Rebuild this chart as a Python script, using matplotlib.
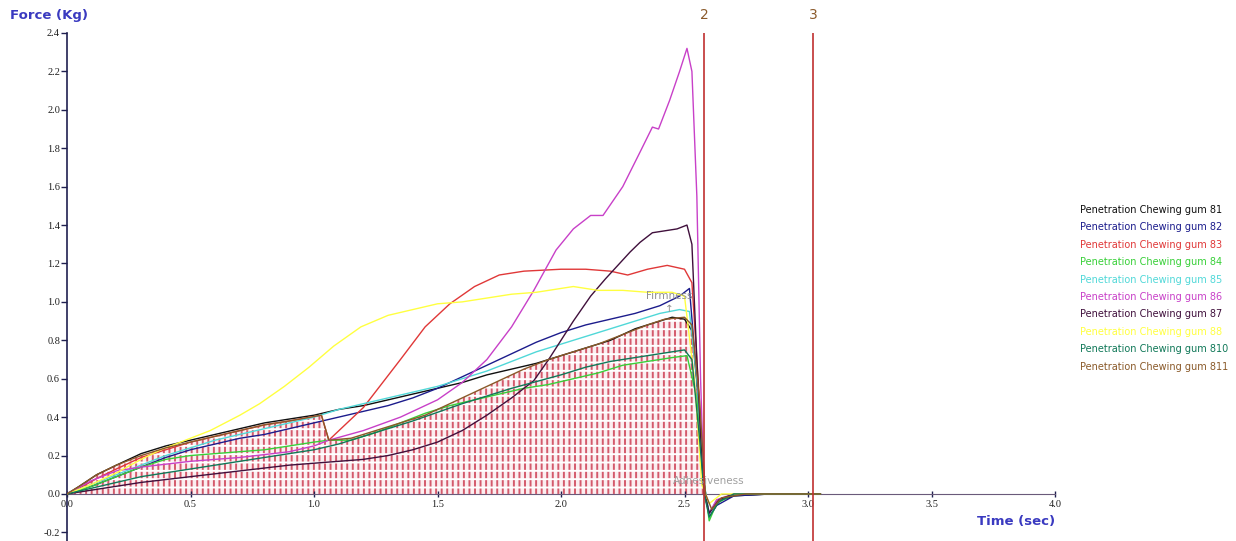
import numpy as np
import matplotlib.pyplot as plt

# force / time traces, read per sample (sec, kg)
t81 = [0, 0.05, 0.12, 0.2, 0.3, 0.4, 0.5, 0.6, 0.7, 0.8, 0.9, 1.0, 1.1, 1.2, 1.3, 1.4, 1.5, 1.6, 1.7, 1.8, 1.9, 2.0, 2.1, 2.2, 2.3, 2.4, 2.45, 2.5, 2.53, 2.56, 2.58, 2.6, 2.63, 2.7, 2.85, 3.05]
f81 = [0, 0.04, 0.1, 0.15, 0.21, 0.25, 0.28, 0.31, 0.34, 0.37, 0.39, 0.41, 0.44, 0.46, 0.49, 0.52, 0.55, 0.58, 0.62, 0.65, 0.68, 0.72, 0.76, 0.8, 0.86, 0.9, 0.92, 0.91, 0.85, 0.45, 0.0, -0.1, -0.04, -0.01, 0.0, 0.0]

t82 = [0, 0.1, 0.2, 0.3, 0.4, 0.5, 0.6, 0.7, 0.8, 0.9, 1.0, 1.1, 1.2, 1.3, 1.4, 1.5, 1.6, 1.7, 1.8, 1.9, 2.0, 2.1, 2.2, 2.3, 2.4, 2.48, 2.52, 2.55, 2.58, 2.6, 2.63, 2.7, 2.85, 3.05]
f82 = [0, 0.04, 0.09, 0.14, 0.19, 0.23, 0.26, 0.29, 0.31, 0.34, 0.37, 0.4, 0.43, 0.46, 0.5, 0.55, 0.61, 0.67, 0.73, 0.79, 0.84, 0.88, 0.91, 0.94, 0.98, 1.03, 1.07, 0.6, 0.05, -0.12, -0.06, -0.01, 0.0, 0.0]

t83 = [0, 0.05, 0.12, 0.2, 0.3, 0.4, 0.5, 0.6, 0.7, 0.8, 0.9, 1.03, 1.06, 1.2, 1.35, 1.45, 1.55, 1.65, 1.75, 1.85, 2.0, 2.1, 2.2, 2.27, 2.35, 2.43, 2.5, 2.53, 2.56, 2.58, 2.6, 2.63, 2.7, 2.85, 3.05]
f83 = [0, 0.03, 0.08, 0.13, 0.19, 0.23, 0.27, 0.3, 0.33, 0.36, 0.38, 0.41, 0.28, 0.45, 0.7, 0.87, 0.99, 1.08, 1.14, 1.16, 1.17, 1.17, 1.16, 1.14, 1.17, 1.19, 1.17, 1.1, 0.5, 0.0, -0.1, -0.04, 0.0, 0.0, 0.0]

t84 = [0, 0.1, 0.2, 0.3, 0.4, 0.5, 0.6, 0.7, 0.8, 0.9, 1.0, 1.06, 1.15, 1.25, 1.35, 1.45, 1.55, 1.65, 1.75, 1.85, 1.95, 2.05, 2.15, 2.25, 2.35, 2.45, 2.51, 2.55, 2.58, 2.6, 2.63, 2.7, 3.05]
f84 = [0, 0.04, 0.09, 0.14, 0.18, 0.2, 0.21, 0.22, 0.23, 0.25, 0.27, 0.28, 0.28, 0.32, 0.37, 0.42, 0.46, 0.49, 0.52, 0.55, 0.57, 0.6, 0.63, 0.67, 0.69, 0.71, 0.72, 0.5, 0.05, -0.14, -0.05, 0.0, 0.0]

t85 = [0, 0.1, 0.2, 0.3, 0.4, 0.5, 0.6, 0.7, 0.8, 0.9, 1.0, 1.1, 1.2, 1.3, 1.4, 1.5, 1.6, 1.7, 1.8, 1.9, 2.0, 2.1, 2.2, 2.3, 2.4, 2.48, 2.52, 2.55, 2.58, 2.6, 2.64, 2.7, 3.05]
f85 = [0, 0.05, 0.1, 0.15, 0.2, 0.24, 0.28, 0.31, 0.34, 0.37, 0.4, 0.44, 0.47, 0.5, 0.53, 0.56, 0.6, 0.64, 0.69, 0.74, 0.78, 0.82, 0.86, 0.9, 0.94, 0.96, 0.95, 0.6, 0.05, -0.1, -0.03, 0.0, 0.0]

t86 = [0, 0.1, 0.2, 0.3, 0.5, 0.7, 0.9, 1.0, 1.06, 1.2, 1.35, 1.5, 1.6, 1.7, 1.8, 1.89, 1.98, 2.05, 2.12, 2.17, 2.25, 2.32, 2.37, 2.395, 2.44, 2.48, 2.51, 2.53, 2.55, 2.565, 2.58, 2.6, 2.63, 2.7, 3.05]
f86 = [0, 0.07, 0.12, 0.14, 0.17, 0.19, 0.22, 0.25, 0.28, 0.33, 0.4, 0.49, 0.58, 0.7, 0.87, 1.06, 1.27, 1.38, 1.45, 1.45, 1.6, 1.78, 1.91, 1.9, 2.05, 2.2, 2.32, 2.2, 1.55, 0.6, 0.0, -0.1, -0.03, 0.0, 0.0]

t87 = [0, 0.1, 0.2, 0.3, 0.5, 0.7, 0.9, 1.0, 1.1, 1.2, 1.3, 1.4, 1.5, 1.6, 1.7, 1.8, 1.89, 1.95, 2.0, 2.05, 2.12, 2.18, 2.23, 2.28, 2.32, 2.37, 2.42, 2.47, 2.51, 2.53, 2.55, 2.575, 2.6, 2.64, 2.7, 3.05]
f87 = [0, 0.02, 0.04, 0.06, 0.09, 0.12, 0.15, 0.16, 0.17, 0.18, 0.2, 0.23, 0.27, 0.33, 0.41, 0.5, 0.59, 0.7, 0.8, 0.9, 1.03, 1.12, 1.19, 1.26, 1.31, 1.36, 1.37, 1.38, 1.4, 1.3, 0.7, 0.05, -0.1, -0.03, 0.0, 0.0]

t88 = [0, 0.1, 0.2, 0.3, 0.38, 0.5, 0.58, 0.7, 0.78, 0.88, 0.98, 1.08, 1.19, 1.3, 1.4, 1.5, 1.6, 1.7, 1.8, 1.9, 2.0, 2.05, 2.15, 2.25, 2.35, 2.45, 2.5, 2.54, 2.57, 2.6, 2.65, 3.05]
f88 = [0, 0.05, 0.11, 0.18, 0.23, 0.29, 0.33, 0.41, 0.47, 0.56, 0.66, 0.77, 0.87, 0.93, 0.96, 0.99, 1.0, 1.02, 1.04, 1.05, 1.07, 1.08, 1.06, 1.06, 1.05, 1.05, 1.03, 0.6, 0.05, -0.05, 0.0, 0.0]

t810 = [0, 0.1, 0.2, 0.3, 0.5, 0.7, 0.9, 1.0, 1.1, 1.2, 1.4, 1.6, 1.8, 2.0, 2.1, 2.2, 2.3, 2.4, 2.5, 2.53, 2.56, 2.58, 2.6, 2.64, 2.7, 3.05]
f810 = [0, 0.03, 0.06, 0.09, 0.13, 0.17, 0.21, 0.23, 0.26, 0.3, 0.38, 0.47, 0.55, 0.62, 0.66, 0.69, 0.71, 0.73, 0.75, 0.7, 0.3, 0.0, -0.12, -0.04, 0.0, 0.0]

t811 = [0, 0.05, 0.12, 0.2, 0.3, 0.4, 0.5, 0.6, 0.7, 0.8, 0.9, 1.03, 1.06, 1.15, 1.25, 1.35, 1.45, 1.55, 1.65, 1.75, 1.85, 1.95, 2.05, 2.15, 2.25, 2.35, 2.42, 2.5, 2.53, 2.56, 2.585, 2.61, 2.65, 2.75, 2.9, 3.05]
f811 = [0, 0.04, 0.1, 0.15, 0.2, 0.24, 0.27, 0.3, 0.33, 0.36, 0.38, 0.41, 0.28, 0.29, 0.33, 0.37, 0.41, 0.47, 0.53, 0.59, 0.65, 0.7, 0.74, 0.78, 0.83, 0.88, 0.91, 0.92, 0.88, 0.5, 0.0, -0.08, -0.02, 0.0, 0.0, 0.0]

names = ['Penetration Chewing gum 81', 'Penetration Chewing gum 82', 'Penetration Chewing gum 83',
         'Penetration Chewing gum 84', 'Penetration Chewing gum 85', 'Penetration Chewing gum 86',
         'Penetration Chewing gum 87', 'Penetration Chewing gum 88', 'Penetration Chewing gum 810',
         'Penetration Chewing gum 811']
colors = ['#101010', '#1c1c8c', '#e03838', '#38d038', '#50d8d8', '#c840c8',
          '#40103c', '#ffff40', '#107858', '#8a5a2a']
times = [t81, t82, t83, t84, t85, t86, t87, t88, t810, t811]
forces = [f81, f82, f83, f84, f85, f86, f87, f88, f810, f811]

markers_t = [2.58, 3.02]
markers_lab = ['2', '3']

W, H = 1236, 541
fig = plt.figure(figsize=(W / 100, H / 100), dpi=100)
ax = fig.add_axes([67 / W, 0, (1055 - 67) / W, 1 - 33 / H])
ax.set_xlim(0, 4.0)
ax.set_ylim(-0.245, 2.4)

# hatched area under the 811 trace: vertical red lines cut into dashes by white rows
plt.rcParams['hatch.linewidth'] = 1.4
ta = np.array(t811)
fa = np.array(f811)
m = fa >= 0
ax.fill_between(ta[m], 0, fa[m], facecolor='#fbeef0', edgecolor='#d45a6c', hatch='|||', lw=0, zorder=1)
ax.fill_between(ta[m], 0, fa[m], facecolor='none', edgecolor='white', hatch='--', lw=0, zorder=1.5)

for t, f, c in zip(times, forces, colors):
    ax.plot(t, f, color=c, lw=1.0, zorder=3)

for xm, lab in zip(markers_t, markers_lab):
    ax.axvline(xm, color='#c03030', lw=1.2, zorder=4)
    ax.text(xm, 2.495, lab, color='#8b5a2b', fontsize=10, ha='center', va='center', clip_on=False)

ax.text(2.44, 1.03, 'Firmness', color='#909090', fontsize=7.5, ha='center', va='center', zorder=5)
ax.text(2.44, 0.965, '\u2191', color='#909090', fontsize=7.5, ha='center', va='center', zorder=5)
ax.text(2.6, 0.068, 'Adhesiveness', color='#a0a0a0', fontsize=7.5, ha='center', va='center', zorder=5)

# axes styling
for s in ['top', 'right']:
    ax.spines[s].set_visible(False)
ax.spines['bottom'].set_position(('data', 0))
ax.spines['bottom'].set_color('#6a5a7a')
ax.spines['left'].set_color('#202050')
ax.spines['left'].set_linewidth(1.2)
ax.set_xticks(np.arange(0, 4.01, 0.5))
ax.set_xticklabels(['%.1f' % v for v in np.arange(0, 4.01, 0.5)])
ax.set_yticks(np.arange(-0.2, 2.41, 0.2))
ax.set_yticklabels(['%.1f' % v for v in np.arange(-0.2, 2.41, 0.2)])
ax.tick_params(axis='x', direction='inout', length=5, width=1, colors='#202050', labelsize=7.5, pad=2)
ax.tick_params(axis='y', direction='out', length=4, width=1, colors='#202050', labelsize=7.5, pad=1)
for lb in ax.get_xticklabels() + ax.get_yticklabels():
    lb.set_fontfamily('Liberation Serif')
    lb.set_color('#202020')

fig.text(10 / W, 1 - 16 / H, 'Force (Kg)', color='#3a3ac0', fontsize=9.5, fontweight='bold', va='center')
fig.text(1055 / W, 1 - 522 / H, 'Time (sec)', color='#3a3ac0', fontsize=9.5, fontweight='bold', ha='right', va='center')

y0, dy = 210, 17.4
for i, (n, c) in enumerate(zip(names, colors)):
    fig.text(1080 / W, 1 - (y0 + i * dy) / H, n, color=c, fontsize=7, va='center')

fig.savefig('out.png', dpi=100)
